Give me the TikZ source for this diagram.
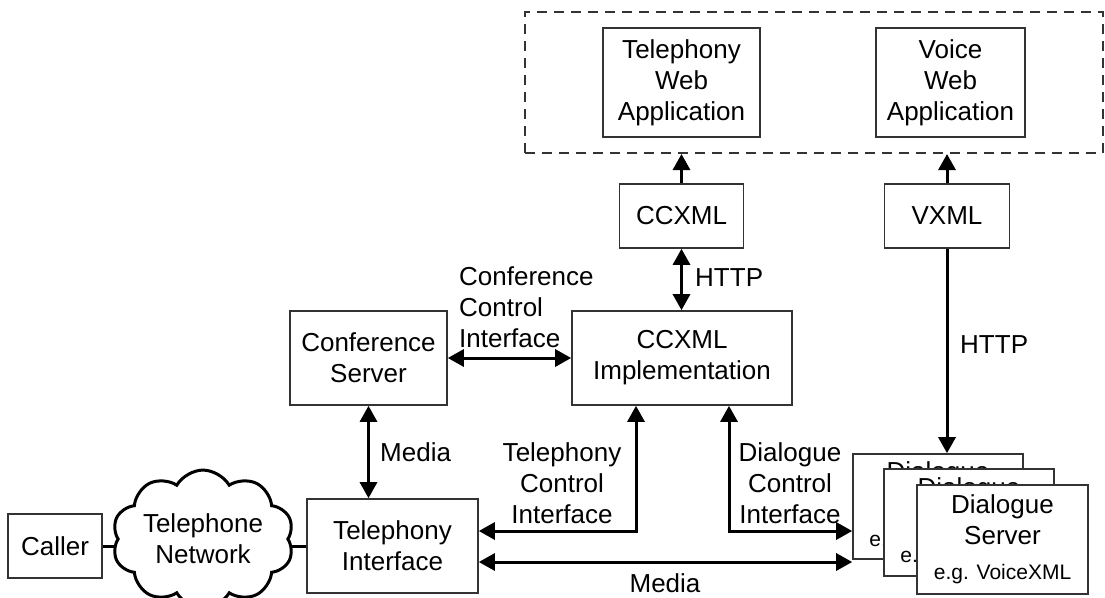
\documentclass[tikz,border=0pt]{standalone}
\usepackage{fontspec}
\setmainfont{Liberation Sans}
\usetikzlibrary{arrows.meta,shapes.symbols,backgrounds,calc}
\begin{document}
\begin{tikzpicture}[x=1pt,y=-1pt,
  every node/.style={font=\fontsize{26}{31}\selectfont},
  box/.style={draw=black!80,line width=1.6pt,fill=white,rectangle,align=center,inner sep=0pt},
  lbl/.style={align=center,inner sep=0pt},
  conn/.style={line width=3pt,-{Triangle[length=16pt,width=17pt]}},
  dconn/.style={line width=3pt,{Triangle[length=16pt,width=17pt]}-{Triangle[length=16pt,width=17pt]}},
  plain/.style={line width=3pt}
]
\useasboundingbox (0,0) rectangle (1105,597);
% web apps
\node[draw=black!80,line width=2pt,dash pattern=on 10pt off 7pt,minimum width=578pt,minimum height=141pt,inner sep=0pt] (apps) at (814,82.5) {};
\node[box,minimum width=157pt,minimum height=109pt] (twa) at (681.5,82.5) {Telephony\\Web\\Application};
\node[box,minimum width=149pt,minimum height=109pt] (vwa) at (950.5,82.5) {Voice\\Web\\Application};
% languages
\node[box,minimum width=124pt,minimum height=64pt] (ccxml) at (681.5,216) {CCXML};
\node[box,minimum width=125pt,minimum height=64pt] (vxml) at (947,216) {VXML};
% middle
\node[box,minimum width=220pt,minimum height=94pt] (impl) at (682,358) {CCXML\\Implementation};
\node[box,minimum width=157pt,minimum height=94pt] (conf) at (368.5,358) {Conference\\Server};
% bottom
\node[box,minimum width=171pt,minimum height=94pt] (ti) at (392.5,546) {Telephony\\Interface};
\node[box,minimum width=94pt,minimum height=64pt] (caller) at (55,546) {Caller};
\node[cloud,draw=black,line width=3pt,fill=white,cloud puffs=10,cloud puff arc=120,aspect=1.5,
      minimum width=160pt,minimum height=112pt,inner sep=0pt,align=center] (net) at (203,539) {Telephone\\Network};
% dialogue servers
\node[box,minimum width=170pt,minimum height=105pt] (d1) at (938,506.5) {Dialogue\\Server\\[4pt]{\fontsize{21}{25}\selectfont e.g. VoiceXML}};
\node[box,minimum width=170pt,minimum height=107pt] (d2) at (969,522.5) {Dialogue\\Server\\[4pt]{\fontsize{21}{25}\selectfont e.g. VoiceXML}};
\node[box,minimum width=171pt,minimum height=109pt] (d3) at (1002.5,539.5) {Dialogue\\Server\\[4pt]{\fontsize{21}{25}\selectfont e.g. VoiceXML}};
% background connectors to cloud
\begin{scope}[on background layer]
\draw[plain] (caller.east) -- (caller.east -| net.center);
\draw[plain] (net.center |- ti.west) -- (ti.west);
\end{scope}
% connectors
\draw[conn] (ccxml.north) -- (ccxml.north |- apps.south);
\draw[conn] (vxml.north) -- (vxml.north |- apps.south);
\draw[dconn] (ccxml.south) -- (ccxml.south |- impl.north);
\draw[conn] (vxml.south) -- (vxml.south |- d1.north);
\draw[dconn] (conf.east) -- (impl.west);
\draw[dconn] (conf.south) -- (conf.south |- ti.north);
\draw[dconn] ([yshift=15pt]ti.east) -| ([xshift=-46pt]impl.south);
\draw[dconn] ([xshift=47pt]impl.south) |- ([yshift=-24.5pt]d1.west);
\draw[dconn] ([yshift=-16pt]ti.east) -- ([yshift=-16pt]ti.east -| d1.west);
% labels
\node[lbl,anchor=west] (lhttp1) at (695,278) {HTTP};
\node[lbl,anchor=west] (lhttp2) at (960,345) {HTTP};
\node[lbl,anchor=west,align=left] (lcci) at (459,307) {Conference\\Control\\Interface};
\node[lbl,anchor=west] (lmedia1) at (380,452) {Media};
\node[lbl] (ltci) at (562,483) {Telephony\\Control\\Interface};
\node[lbl] (ldci) at (790,483) {Dialogue\\Control\\Interface};
\node[lbl] (lmedia2) at (665,583) {Media};
\end{tikzpicture}
\end{document}
